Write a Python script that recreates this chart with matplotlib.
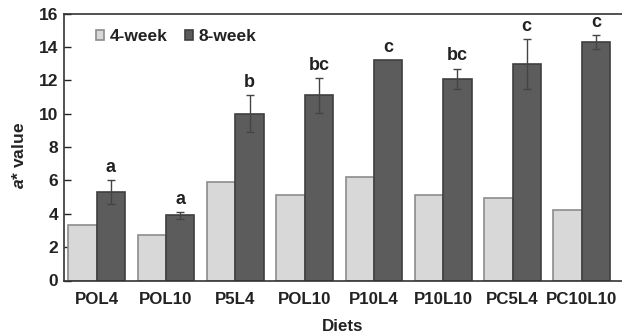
import matplotlib
matplotlib.use("Agg")
import matplotlib.pyplot as plt
import numpy as np

plt.rcParams["font.family"] = ["Liberation Sans", "DejaVu Sans"]
plt.rcParams["font.weight"] = "bold"
plt.rcParams["mathtext.fontset"] = "custom"
plt.rcParams["mathtext.bfit"] = "Liberation Sans:bold:italic"
plt.rcParams["mathtext.it"] = "Liberation Sans:italic"

diets = ["POL4", "POL10", "P5L4", "POL10", "P10L4", "P10L10", "PC5L4", "PC10L10"]
week4 = [3.3, 2.7, 5.9, 5.15, 6.2, 5.15, 4.95, 4.2]
week8 = [5.3, 3.9, 10.0, 11.1, 13.2, 12.1, 12.95, 14.3]
week8_err = [0.7, 0.22, 1.1, 1.05, 0.0, 0.6, 1.5, 0.42]
letters = ["a", "a", "b", "bc", "c", "bc", "c", "c"]

x = np.arange(len(diets))
w = 0.41

fig = plt.figure(figsize=(6.22, 3.35), dpi=100)
ax = fig.add_axes([63.5 / 622, 1 - 280.5 / 335, 1 - 63.5 / 622, 267 / 335])

ax.bar(x - w / 2, week4, w, color="#d8d8d8", edgecolor="#8c8c8c", linewidth=1.2,
       label="4-week", zorder=2)
ax.bar(x + w / 2, week8, w, color="#5c5c5c", edgecolor="#3f3f3f", linewidth=1.2,
       label="8-week", zorder=2)

err = np.array(week8_err)
mask = err > 0
ax.errorbar((x + w / 2)[mask], np.array(week8)[mask], yerr=err[mask], fmt="none",
            ecolor="#444444", elinewidth=1.0, capsize=3, capthick=1.0, zorder=3)

for xi, v, e, lab in zip(x, week8, week8_err, letters):
    ax.annotate(lab, (xi + w / 2, v + e), xytext=(0, 3), textcoords="offset points",
                ha="center", va="bottom", fontsize=13, fontweight="bold", color="#222222")

ax.set_xlim(-0.48, 7.58)
ax.set_ylim(0, 16)
ax.set_yticks(np.arange(0, 17, 2))
ax.set_xticks(x)
ax.set_xticklabels(diets, fontsize=12.2, fontweight="bold", color="#222222")
ax.tick_params(axis="x", length=0, pad=8)
ax.tick_params(axis="y", direction="in", length=5, labelsize=12.5, colors="#222222",
               width=1, pad=4)
for lbl in ax.get_yticklabels():
    lbl.set_fontweight("bold")
ax.spines["right"].set_visible(False)
for s in ["left", "bottom", "top"]:
    ax.spines[s].set_color("#333333")
    ax.spines[s].set_linewidth(1.2)

ax.set_xlabel("Diets", fontsize=12.2, fontweight="bold", labelpad=9, color="#222222")
ax.set_ylabel(r"$\mathbfit{a}$* value", fontsize=12.5, fontweight="bold", color="#222222")
ax.yaxis.set_label_coords(-0.065, 0.47)

leg = ax.legend(loc="upper left", bbox_to_anchor=(0.03, 1.0), ncol=2, frameon=False,
                fontsize=12.5, handlelength=0.45, handleheight=0.45, handletextpad=0.35,
                columnspacing=1.0)
for t in leg.get_texts():
    t.set_fontweight("bold")
    t.set_color("#222222")

fig.savefig("out.png", dpi=100)
